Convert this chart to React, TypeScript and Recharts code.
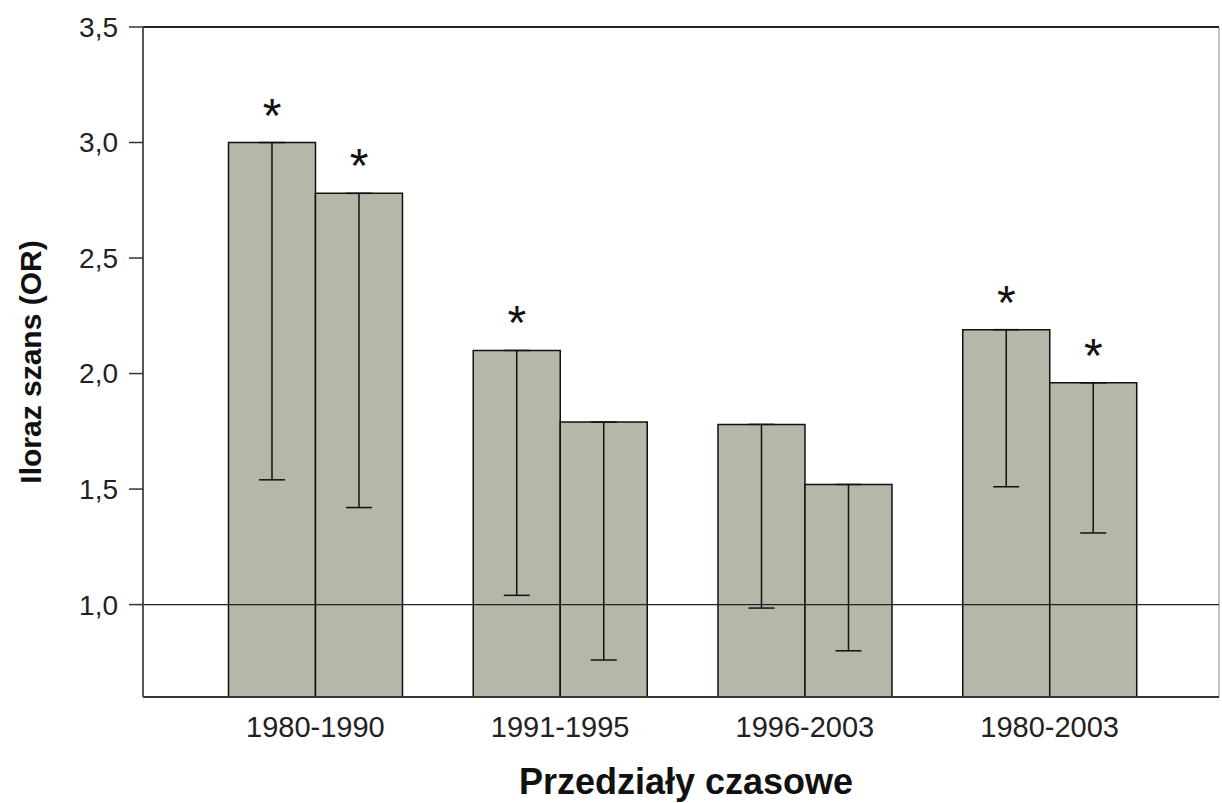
import React from 'react';
import { BarChart, Bar, XAxis, YAxis, ErrorBar, ReferenceLine, CartesianGrid, LabelList, Label } from 'recharts';

const categories = ['1980-1990', '1991-1995', '1996-2003', '1980-2003'];
const orA = [3.0, 2.1, 1.78, 2.19];
const lowA = [1.54, 1.04, 0.985, 1.51];
const orB = [2.78, 1.79, 1.52, 1.96];
const lowB = [1.42, 0.76, 0.8, 1.31];
const sigA = [true, true, false, true];
const sigB = [true, false, false, true];
const yTicks = [1.0, 1.5, 2.0, 2.5, 3.0, 3.5];
const yMin = 0.6;
const yMax = 3.5;

const data = categories.map((c, i) => ({
  name: c,
  a: orA[i],
  b: orB[i],
  errA: [orA[i] - lowA[i], 0],
  errB: [orB[i] - lowB[i], 0],
  sigA: sigA[i] ? '*' : '',
  sigB: sigB[i] ? '*' : '',
}));

const FONT = '"Liberation Sans", Arial, sans-serif';

const Star = (props: any) => {
  const { x, y, width, value } = props;
  if (!value) return null;
  return (
    <text x={x + width / 2} y={y - 11} textAnchor="middle" fontSize={48} fontFamily={FONT} fill="#111">
      *
    </text>
  );
};

export default function App() {
  return (
    <div style={{ position: 'absolute', left: 0, top: 0, background: '#fff' }}>
      <BarChart
        width={1222}
        height={803}
        data={data}
        margin={{ top: 27, right: 3, bottom: 66, left: 20 }}
        barCategoryGap="14.5%"
        barGap={0}
      >
        <CartesianGrid
          horizontal={false}
          vertical
          stroke="#b0b0b0"
          strokeWidth={1.5}
          verticalCoordinatesGenerator={(p: any) => [p.offset.left + p.offset.width]}
        />
        <XAxis
          dataKey="name"
          padding={{ left: 50, right: 47 }}
          height={40}
          tickLine={false}
          tickSize={0}
          tickMargin={19}
          axisLine={{ stroke: '#333', strokeWidth: 2 }}
          tick={{ fontSize: 29, fill: '#222', fontFamily: FONT }}
        >
          <Label
            content={() => (
              <text x={686} y={794} textAnchor="middle" fontSize={36} fontWeight="bold" fontFamily={FONT} fill="#111">
                Przedziały czasowe
              </text>
            )}
          />
        </XAxis>
        <YAxis
          domain={[yMin, yMax]}
          ticks={yTicks}
          width={123}
          tickSize={14}
          tickMargin={11}
          tickFormatter={(v: number) => v.toFixed(1).replace('.', ',')}
          axisLine={{ stroke: '#555', strokeWidth: 2 }}
          tickLine={{ stroke: '#333', strokeWidth: 1.5 }}
          tick={{ fontSize: 28, fill: '#222', fontFamily: FONT }}
        >
          <Label
            content={() => (
              <text
                x={41}
                y={362}
                transform="rotate(-90 41 362)"
                textAnchor="middle"
                fontSize={30}
                fontWeight="bold"
                fontFamily={FONT}
                fill="#111"
              >
                Iloraz szans (OR)
              </text>
            )}
          />
        </YAxis>
        <Bar dataKey="a" fill="#b6b6a9" stroke="#111" strokeWidth={1.5} isAnimationActive={false}>
          <ErrorBar dataKey="errA" width={13} stroke="#111" strokeWidth={1.5} />
          <LabelList dataKey="sigA" content={Star} />
        </Bar>
        <Bar dataKey="b" fill="#b6b6a9" stroke="#111" strokeWidth={1.5} isAnimationActive={false}>
          <ErrorBar dataKey="errB" width={13} stroke="#111" strokeWidth={1.5} />
          <LabelList dataKey="sigB" content={Star} />
        </Bar>
        <ReferenceLine y={1} stroke="#222" strokeWidth={1.2} />
        <ReferenceLine y={yMax} stroke="#222" strokeWidth={2} />
      </BarChart>
    </div>
  );
}
